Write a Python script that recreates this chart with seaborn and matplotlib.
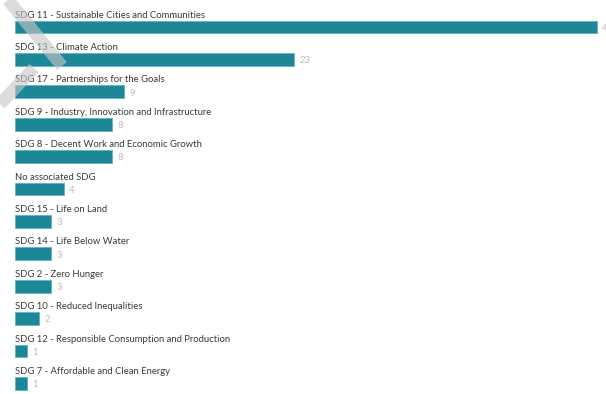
import matplotlib
matplotlib.use("Agg")
import matplotlib.pyplot as plt
import seaborn as sns
import pandas as pd

categories = [
    "SDG 11 - Sustainable Cities and Communities",
    "SDG 13 - Climate Action",
    "SDG 17 - Partnerships for the Goals",
    "SDG 9 - Industry, Innovation and Infrastructure",
    "SDG 8 - Decent Work and Economic Growth",
    "No associated SDG",
    "SDG 15 - Life on Land",
    "SDG 14 - Life Below Water",
    "SDG 2 - Zero Hunger",
    "SDG 10 - Reduced Inequalities",
    "SDG 12 - Responsible Consumption and Production",
    "SDG 7 - Affordable and Clean Energy",
]
counts = [48, 23, 9, 8, 8, 4, 3, 3, 3, 2, 1, 1]

df = pd.DataFrame({"sdg": categories, "count": counts})

sns.set_theme(style="white")
plt.rcParams["font.family"] = ["Lato", "DejaVu Sans"]

W, H = 606, 394
fig = plt.figure(figsize=(W / 100, H / 100), dpi=100)
left = 15 / W
ax = fig.add_axes([left, 0, 1 - left, 1])

bar_color = "#1b8797"
sns.barplot(data=df, x="count", y="sdg", orient="h", color=bar_color,
            width=0.4, saturation=1, edgecolor="#5fb3bf", linewidth=0.6, ax=ax)

# px per unit ~12.13; pitch per row ~32.4 px, first bar centred at 27 px
ax.set_xlim(0, (W - 15) / 12.13)
ax.set_ylim((H - 27) / 32.4, -27 / 32.4)
ax.set_axis_off()

for i, (name, v) in enumerate(zip(categories, counts)):
    ax.text(0, i - 0.37, name, ha="left", va="center", fontsize=6.8,
            color="#3a3a3a", clip_on=False)
    ax.text(v + 0.42, i + 0.04, str(v), ha="left", va="center", fontsize=6.8,
            color="#bdbdbd", clip_on=False)

# faint diagonal watermark strokes in the top-left corner
wm = dict(color="#c7c7c7", alpha=0.62, lw=9, solid_capstyle="butt",
          transform=fig.transFigure, zorder=10)
fig.add_artist(plt.Line2D([8 / W, 62 / W], [1 - 0 / H, 1 - 66 / H], **wm))
fig.add_artist(plt.Line2D([0 / W, 34 / W], [1 - 104 / H, 1 - 68 / H], **wm))

fig.savefig("out.png", dpi=100)
